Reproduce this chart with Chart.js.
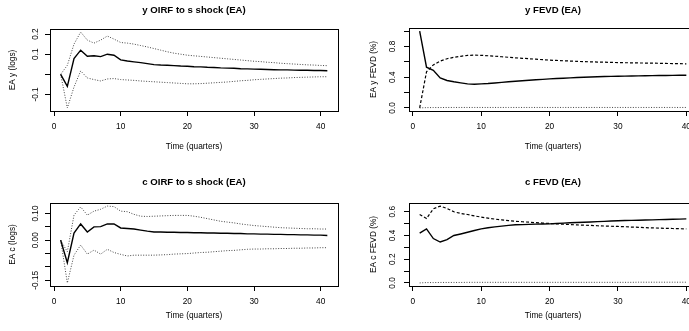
<!DOCTYPE html>
<html>
<head>
<meta charset="utf-8">
<script src="https://cdn.jsdelivr.net/npm/chart.js@4/dist/chart.umd.min.js"></script>
<style>
  html, body { margin: 0; padding: 0; background: #fff; }
  body { position: relative; width: 689px; height: 331px; overflow: hidden; }
  canvas { position: absolute; }
</style>
</head>
<body>
<canvas id="yIrfChart"></canvas>
<canvas id="yFevdChart"></canvas>
<canvas id="cIrfChart"></canvas>
<canvas id="cFevdChart"></canvas>
<script>
// horizons
const quartersIrf = [1,2,3,4,5,6,7,8,9,10,11,12,13,14,15,16,17,18,19,20,21,22,23,24,25,26,27,28,29,30,31,32,33,34,35,36,37,38,39,40,41];
const quartersFevd = [1,2,3,4,5,6,7,8,9,10,11,12,13,14,15,16,17,18,19,20,21,22,23,24,25,26,27,28,29,30,31,32,33,34,35,36,37,38,39,40];

// y OIRF to s shock, with bands
const yIrf = [0.0,-0.06,0.078,0.12,0.09,0.092,0.088,0.1,0.095,0.072,0.066,0.062,0.058,0.053,0.048,0.046,0.045,0.043,0.041,0.04,
  0.038,0.037,0.035,0.034,0.032,0.031,0.03,0.028,0.027,0.026,0.025,0.024,0.023,0.022,0.022,0.021,0.02,0.02,0.019,0.019,0.018];
const yIrfUpper = [0.0,0.045,0.15,0.21,0.17,0.155,0.17,0.19,0.175,0.158,0.155,0.15,0.143,0.136,0.128,0.12,0.112,0.105,0.1,0.095,
  0.092,0.089,0.086,0.083,0.08,0.077,0.074,0.071,0.068,0.065,0.063,0.06,0.058,0.055,0.053,0.051,0.049,0.047,0.046,0.044,0.043];
const yIrfLower = [0.0,-0.167,-0.063,0.017,-0.018,-0.026,-0.033,-0.023,-0.021,-0.026,-0.028,-0.03,-0.033,-0.035,-0.037,-0.039,-0.041,-0.043,-0.045,-0.047,
  -0.047,-0.046,-0.044,-0.042,-0.04,-0.038,-0.035,-0.032,-0.03,-0.027,-0.025,-0.023,-0.021,-0.019,-0.018,-0.016,-0.015,-0.014,-0.013,-0.012,-0.012];

// c OIRF to s shock, with bands
const cIrf = [0.0,-0.084,0.027,0.061,0.031,0.05,0.051,0.061,0.061,0.046,0.044,0.042,0.038,0.034,0.031,0.031,0.03,0.03,0.029,0.029,
  0.028,0.028,0.027,0.027,0.026,0.026,0.025,0.025,0.024,0.024,0.023,0.023,0.022,0.022,0.021,0.021,0.02,0.02,0.019,0.019,0.018];
const cIrfUpper = [0.0,-0.043,0.094,0.125,0.094,0.109,0.116,0.128,0.126,0.109,0.107,0.097,0.09,0.089,0.09,0.091,0.092,0.093,0.093,0.093,
  0.09,0.086,0.081,0.076,0.071,0.068,0.065,0.061,0.058,0.055,0.053,0.051,0.049,0.047,0.046,0.045,0.044,0.043,0.043,0.042,0.042];
const cIrfLower = [0.0,-0.16,-0.056,-0.018,-0.052,-0.037,-0.052,-0.034,-0.046,-0.053,-0.059,-0.056,-0.056,-0.056,-0.056,-0.055,-0.054,-0.052,-0.051,-0.05,
  -0.048,-0.046,-0.045,-0.043,-0.041,-0.039,-0.038,-0.036,-0.034,-0.033,-0.033,-0.032,-0.032,-0.031,-0.031,-0.03,-0.03,-0.029,-0.029,-0.028,-0.028];

// FEVD shares (y, c, s shocks)
const yFevdFromY = [1.0,0.53,0.49,0.39,0.357,0.34,0.326,0.313,0.309,0.313,0.318,0.325,0.332,0.34,0.348,0.354,0.36,0.366,0.372,0.378,
  0.382,0.387,0.391,0.396,0.4,0.403,0.405,0.408,0.41,0.413,0.414,0.416,0.417,0.419,0.42,0.421,0.422,0.424,0.425,0.426];
const yFevdFromC = [0.0,0.47,0.56,0.61,0.64,0.658,0.672,0.683,0.687,0.684,0.679,0.673,0.666,0.659,0.652,0.646,0.64,0.634,0.628,0.622,
  0.618,0.614,0.61,0.606,0.602,0.6,0.597,0.595,0.592,0.59,0.588,0.587,0.585,0.584,0.583,0.581,0.579,0.577,0.576,0.574];
const yFevdFromS = [0.0,0.004,0.005,0.005,0.006,0.006,0.006,0.006,0.006,0.006,0.006,0.006,0.006,0.006,0.006,0.006,0.006,0.006,0.006,0.006,
  0.006,0.006,0.006,0.006,0.006,0.006,0.006,0.006,0.006,0.006,0.006,0.006,0.006,0.006,0.006,0.006,0.006,0.006,0.006,0.006];
const cFevdFromY = [0.42,0.456,0.374,0.345,0.365,0.4,0.413,0.427,0.442,0.456,0.465,0.473,0.479,0.485,0.49,0.492,0.494,0.496,0.497,0.498,
  0.501,0.504,0.507,0.51,0.512,0.514,0.517,0.519,0.522,0.524,0.526,0.527,0.529,0.53,0.532,0.534,0.535,0.537,0.538,0.54];
const cFevdFromC = [0.577,0.543,0.625,0.648,0.628,0.6,0.586,0.577,0.565,0.555,0.546,0.538,0.532,0.526,0.52,0.516,0.512,0.508,0.505,0.501,
  0.498,0.495,0.492,0.489,0.487,0.485,0.482,0.48,0.478,0.476,0.474,0.471,0.469,0.466,0.464,0.462,0.46,0.459,0.457,0.456];
const cFevdFromS = [0.0,0.003,0.003,0.004,0.004,0.004,0.004,0.005,0.005,0.005,0.005,0.005,0.005,0.005,0.005,0.005,0.005,0.005,0.005,0.005,
  0.005,0.005,0.005,0.005,0.005,0.005,0.005,0.005,0.005,0.005,0.005,0.005,0.006,0.006,0.006,0.006,0.006,0.006,0.006,0.006];

// axis ticks and the labels R kept
const xTicks = [0, 10, 20, 30, 40];
const yIrfTicks = [-0.1, 0, 0.1, 0.2];
const yIrfTickLabels = ['-0.1', '', '0.1', '0.2'];
const cIrfTicks = [-0.15, -0.1, -0.05, 0, 0.05, 0.1];
const cIrfTickLabels = ['-0.15', '', '', '0.00', '', '0.10'];
const yFevdTicks = [0, 0.2, 0.4, 0.6, 0.8, 1.0];
const yFevdTickLabels = ['0.0', '', '0.4', '', '0.8', ''];
const cFevdTicks = [0, 0.1, 0.2, 0.3, 0.4, 0.5, 0.6];
const cFevdTickLabels = ['0.0', '', '0.2', '', '0.4', '', '0.6'];

const FONT = '"Liberation Sans", Arial, Helvetica, sans-serif';
const X_AXIS_H = 22;   // room kept for the x tick labels (they are clipped to the scale box)

// R-style range: data range plus 4% either side
function rRange(arrs) {
  const all = [].concat(...arrs);
  const lo = Math.min(...all), hi = Math.max(...all), pad = (hi - lo) * 0.04;
  return [lo - pad, hi + pad];
}

const rFrame = {
  id: 'rFrame',
  afterDraw(chart, args, o) {
    const { ctx, chartArea: a, scales } = chart;
    const cx = (a.left + a.right) / 2, cy = (a.top + a.bottom) / 2;
    ctx.save();
    ctx.strokeStyle = '#000';
    ctx.lineWidth = 1;
    ctx.strokeRect(Math.round(a.left) + 0.5, Math.round(a.top) + 0.5,
      Math.round(a.right - a.left), Math.round(a.bottom - a.top));
    ctx.fillStyle = '#000';
    ctx.textAlign = 'center';
    ctx.textBaseline = 'middle';
    ctx.font = 'bold 9.6px ' + FONT;
    ctx.fillText(o.title, cx, o.titleY);
    ctx.font = '8.3px ' + FONT;
    ctx.fillText('Time (quarters)', cx, o.xTitleY);
    ctx.save();
    ctx.translate(o.yTitleX, cy);
    ctx.rotate(-Math.PI / 2);
    ctx.fillText(o.yTitle, 0, 0);
    ctx.restore();
    o.yTicks.forEach((v, i) => {
      const lab = o.yTickLabels[i];
      if (!lab) return;
      ctx.save();
      ctx.translate(a.left + o.yLabelDx, scales.y.getPixelForValue(v));
      ctx.rotate(-Math.PI / 2);
      ctx.fillText(lab, 0, 0);
      ctx.restore();
    });
    ctx.restore();
  }
};

function line(xs, ys, style) {
  const base = { data: xs.map((t, i) => ({ x: t, y: ys[i] })), pointRadius: 0, tension: 0, fill: false,
    borderColor: '#000', borderWidth: 1.4, borderDash: [] };
  if (style === 'dotted') Object.assign(base, { borderColor: '#444', borderWidth: 1, borderDash: [1, 1.6] });
  if (style === 'dashed') Object.assign(base, { borderWidth: 1.2, borderDash: [3, 2] });
  return base;
}

function panel(id, p) {
  const cv = document.getElementById(id);
  cv.width = p.canvas.w; cv.height = p.canvas.h;
  cv.style.left = p.canvas.x + 'px'; cv.style.top = p.canvas.y + 'px';
  const [ymin, ymax] = rRange(p.series.map(s => s[0]));
  const [xmin, xmax] = rRange([p.xs]);
  const b = p.box, c = p.canvas;
  const tickStyle = { display: true, drawOnChartArea: false, drawTicks: true, tickLength: 5, tickColor: '#000', tickWidth: 1 };
  new Chart(cv, {
    type: 'line',
    data: { datasets: p.series.map(s => line(p.xs, s[0], s[1])) },
    options: {
      responsive: false, animation: false, devicePixelRatio: 1,
      layout: { padding: { left: b.l - c.x, top: b.t - c.y, right: c.x + c.w - b.r, bottom: c.y + c.h - b.b - X_AXIS_H } },
      plugins: {
        legend: { display: false }, tooltip: { enabled: false },
        rFrame: {
          title: p.title, yTitle: p.yTitle, yTicks: p.yTicks, yTickLabels: p.yTickLabels,
          titleY: p.titleY - c.y, xTitleY: p.xTitleY - c.y, yTitleX: p.yTitleX - c.x, yLabelDx: p.yLabelDx
        }
      },
      scales: {
        x: {
          type: 'linear', min: xmin, max: xmax,
          afterBuildTicks: s => { s.ticks = xTicks.map(v => ({ value: v })); },
          afterFit: s => { s.height = X_AXIS_H; },
          grid: tickStyle, border: { display: false },
          ticks: { autoSkip: false, maxRotation: 0, padding: 6, color: '#000', font: { family: FONT, size: 8.3 } }
        },
        y: {
          type: 'linear', min: ymin, max: ymax,
          afterBuildTicks: s => { s.ticks = p.yTicks.map(v => ({ value: v })); },
          afterFit: s => { s.width = 0; },
          grid: tickStyle, border: { display: false },
          ticks: { display: false }
        }
      }
    },
    plugins: [rFrame]
  });
}

panel('yIrfChart', {
  canvas: { x: 0, y: 0, w: 359, h: 166 }, box: { l: 50, t: 29, r: 338, b: 111 },
  xs: quartersIrf, series: [[yIrf, 'solid'], [yIrfUpper, 'dotted'], [yIrfLower, 'dotted']],
  title: 'y OIRF to s shock (EA)', yTitle: 'EA y (logs)', yTicks: yIrfTicks, yTickLabels: yIrfTickLabels,
  titleY: 10, xTitleY: 147, yTitleX: 13, yLabelDx: -14
});
panel('yFevdChart', {
  canvas: { x: 359, y: 0, w: 360, h: 166 }, box: { l: 409, t: 28, r: 697, b: 111 },
  xs: quartersFevd, series: [[yFevdFromY, 'solid'], [yFevdFromC, 'dashed'], [yFevdFromS, 'dotted']],
  title: 'y FEVD (EA)', yTitle: 'EA y FEVD (%)', yTicks: yFevdTicks, yTickLabels: yFevdTickLabels,
  titleY: 10, xTitleY: 147, yTitleX: 374, yLabelDx: -16
});
panel('cIrfChart', {
  canvas: { x: 0, y: 166, w: 359, h: 165 }, box: { l: 50, t: 203, r: 338, b: 286 },
  xs: quartersIrf, series: [[cIrf, 'solid'], [cIrfUpper, 'dotted'], [cIrfLower, 'dotted']],
  title: 'c OIRF to s shock (EA)', yTitle: 'EA c (logs)', yTicks: cIrfTicks, yTickLabels: cIrfTickLabels,
  titleY: 182, xTitleY: 315.5, yTitleX: 13, yLabelDx: -14
});
panel('cFevdChart', {
  canvas: { x: 359, y: 166, w: 360, h: 165 }, box: { l: 409, t: 203, r: 697, b: 286 },
  xs: quartersFevd, series: [[cFevdFromY, 'solid'], [cFevdFromC, 'dashed'], [cFevdFromS, 'dotted']],
  title: 'c FEVD (EA)', yTitle: 'EA c FEVD (%)', yTicks: cFevdTicks, yTickLabels: cFevdTickLabels,
  titleY: 182, xTitleY: 315.5, yTitleX: 374, yLabelDx: -16
});
</script>
</body>
</html>
